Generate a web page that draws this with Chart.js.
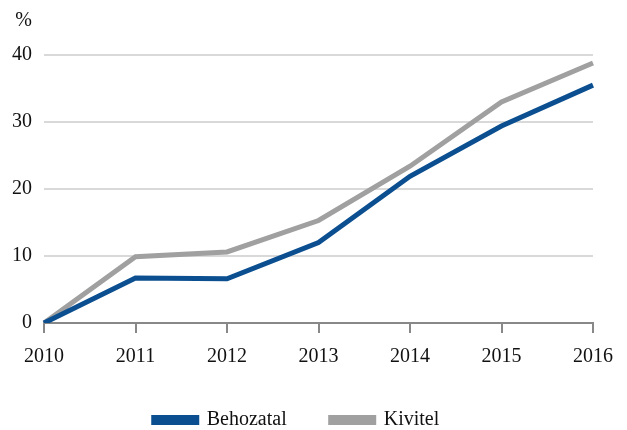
<!DOCTYPE html>
<html>
<head>
<meta charset="utf-8">
<script src="https://cdn.jsdelivr.net/npm/chart.js@4"></script>
<style>
  html, body { margin: 0; padding: 0; background: #fff; }
  #wrap { width: 627px; height: 430px; position: relative; }
</style>
</head>
<body>
<div id="wrap"><canvas id="c"></canvas></div>
<script>
/* ---------- data ---------- */
const years     = ["2010", "2011", "2012", "2013", "2014", "2015", "2016"];
const behozatal = [0, 6.7, 6.6, 12.0, 21.9, 29.4, 35.5];
const kivitel   = [0, 9.9, 10.6, 15.3, 23.4, 33.0, 38.8];
const yTicks    = [0, 10, 20, 30, 40];

const FONT = "'Liberation Serif', 'DejaVu Serif', serif";
Chart.defaults.font.family = FONT;
Chart.defaults.font.size   = 20;
Chart.defaults.color       = "#111";

/* "%" unit label above the y axis */
const unitLabel = {
  id: "unitLabel",
  afterDraw(chart) {
    const { ctx, scales: { y } } = chart;
    ctx.save();
    ctx.font = "20px " + FONT;
    ctx.fillStyle = "#111";
    ctx.textAlign = "right";
    ctx.textBaseline = "middle";
    ctx.fillText("%", y.right - 12, y.top - 34);
    ctx.restore();
  }
};

new Chart(document.getElementById("c"), {
  type: "line",
  data: {
    labels: years,
    datasets: [
      { label: "Behozatal", data: behozatal, borderColor: "#0b4f90",
        backgroundColor: "#0b4f90", borderWidth: 5, pointRadius: 0, tension: 0 },
      { label: "Kivitel", data: kivitel, borderColor: "#a0a0a0",
        backgroundColor: "#a0a0a0", borderWidth: 5, pointRadius: 0, tension: 0 }
    ]
  },
  options: {
    responsive: true, maintainAspectRatio: false, animation: false,
    layout: { padding: { top: 55, right: 34, bottom: -10, left: 0 } },
    plugins: {
      legend: {
        position: "bottom",
        labels: {
          boxWidth: 43, boxHeight: 5, padding: 29, color: "#111",
          // wider gap between the two legend entries
          generateLabels: chart => {
            const items = Chart.defaults.plugins.legend.labels.generateLabels(chart);
            items[0].text += "   ";
            return items;
          }
        }
      },
      tooltip: { enabled: false }
    },
    scales: {
      x: {
        offset: false,
        grid: { drawOnChartArea: false, drawTicks: true, tickLength: 10, color: "#888", lineWidth: 2 },
        border: { display: true, color: "#888", width: 2 },
        ticks: { padding: 12, maxRotation: 0 }
      },
      y: {
        min: 0, max: 40,
        afterFit: s => { s.width = 44; },
        afterBuildTicks: s => { s.ticks = yTicks.map(v => ({ value: v })); },
        grid: { color: "#d9d9d9", lineWidth: 2, drawTicks: false },
        border: { display: false },
        ticks: { padding: 12 }
      }
    }
  },
  plugins: [unitLabel]
});
</script>
</body>
</html>
